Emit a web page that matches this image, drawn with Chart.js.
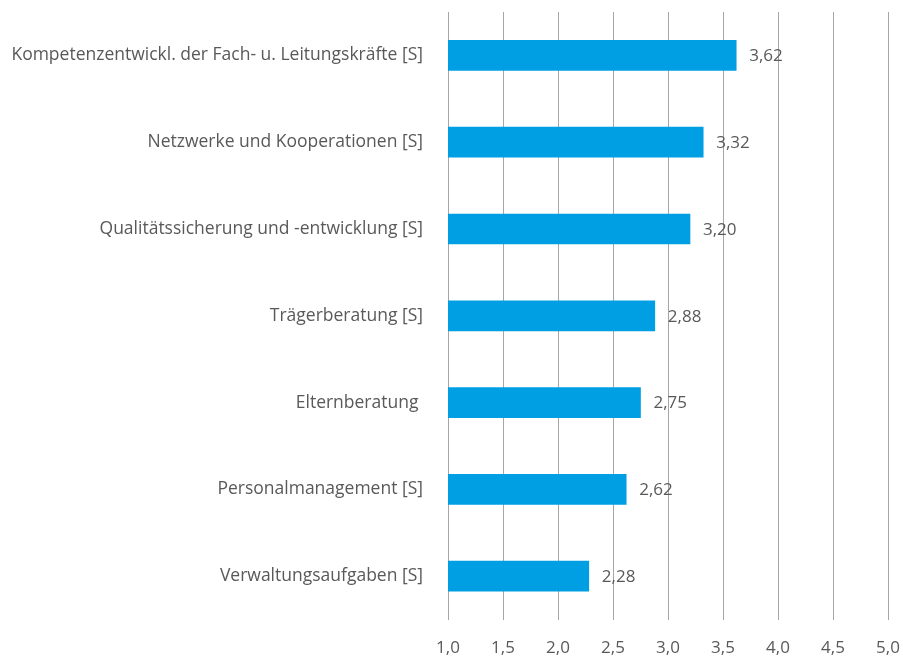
<!DOCTYPE html>
<html>
<head>
<meta charset="utf-8">
<script src="https://cdn.jsdelivr.net/npm/chart.js@4/dist/chart.umd.min.js"></script>
<style>
  html, body { margin: 0; padding: 0; background: #fff; }
  #wrap { width: 903px; height: 658px; }
</style>
</head>
<body>
<div id="wrap"><canvas id="graph" width="903" height="658"></canvas></div>
<script>
var categories = [
  "Kompetenzentwickl. der Fach- u. Leitungskräfte [S]",
  "Netzwerke und Kooperationen [S]",
  "Qualitätssicherung und -entwicklung [S]",
  "Trägerberatung [S]",
  "Elternberatung ",
  "Personalmanagement [S]",
  "Verwaltungsaufgaben [S]"
];
var values = [3.62, 3.32, 3.20, 2.88, 2.75, 2.62, 2.28];
var tickValues = [1.0, 1.5, 2.0, 2.5, 3.0, 3.5, 4.0, 4.5, 5.0];

var textColor = "#595959";
var fontFamily = "'Open Sans', sans-serif";

function fmt(v, digits) {
  return v.toFixed(digits).replace(".", ",");
}

// value labels next to each bar end
var valueLabels = {
  id: "valueLabels",
  afterDatasetsDraw: function(chart) {
    var ctx = chart.ctx;
    var meta = chart.getDatasetMeta(0);
    ctx.save();
    ctx.font = "17px " + fontFamily;
    ctx.fillStyle = textColor;
    ctx.textAlign = "left";
    ctx.textBaseline = "middle";
    meta.data.forEach(function(bar, i) {
      ctx.fillText(fmt(values[i], 2), bar.x + 13, bar.y + 1);
    });
    ctx.restore();
  }
};

var canvas = document.getElementById("graph").getContext("2d");
var chart = new Chart(canvas, {
  type: "bar",
  data: {
    labels: categories,
    datasets: [{
      data: values,
      backgroundColor: "#009FE3",
      borderWidth: 0,
      barThickness: 30
    }]
  },
  options: {
    indexAxis: "y",
    responsive: false,
    animation: false,
    layout: { padding: { left: 0, right: 15, top: 12, bottom: 0 } },
    plugins: {
      legend: { display: false },
      tooltip: { enabled: false }
    },
    scales: {
      x: {
        min: 1,
        max: 5,
        afterBuildTicks: function(scale) {
          scale.ticks = tickValues.map(function(v) { return { value: v }; });
        },
        grid: { color: "#A6A6A6", lineWidth: 1, drawTicks: true, tickLength: 18, tickColor: "rgba(0,0,0,0)" },
        border: { display: false },
        ticks: {
          color: textColor,
          font: { family: fontFamily, size: 17 },
          padding: 0,
          callback: function(v) { return fmt(v, 1); }
        }
      },
      y: {
        afterFit: function(scale) { scale.width = 448; },
        grid: { display: true, drawOnChartArea: false, drawTicks: true, tickLength: 25, tickColor: "rgba(0,0,0,0)" },
        border: { display: false },
        ticks: {
          color: textColor,
          font: { family: fontFamily, size: 17.5 },
          padding: 0
        }
      }
    }
  },
  plugins: [valueLabels]
});
</script>
</body>
</html>
